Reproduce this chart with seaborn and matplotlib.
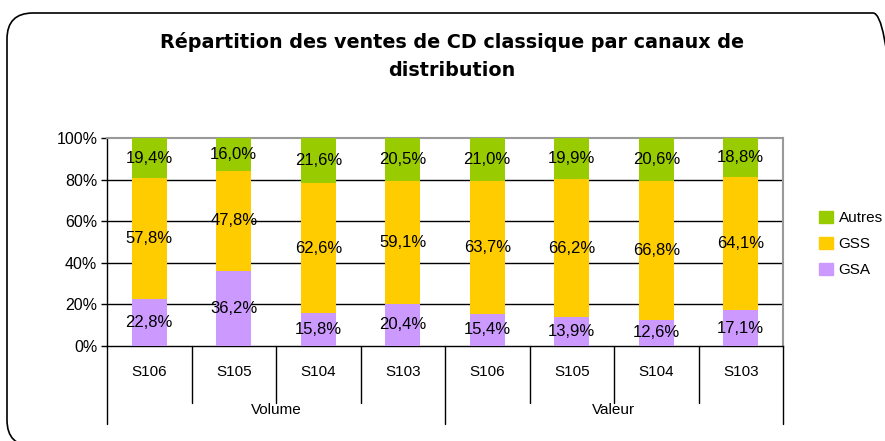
import matplotlib
matplotlib.use("Agg")
import matplotlib.pyplot as plt
from matplotlib.patches import FancyBboxPatch, Patch
from matplotlib.transforms import IdentityTransform
import pandas as pd
import seaborn as sns

# data (percent)
groups = ["Volume", "Valeur"]
periods = ["S106", "S105", "S104", "S103"]
gsa = [22.8, 36.2, 15.8, 20.4, 15.4, 13.9, 12.6, 17.1]
gss = [57.8, 47.8, 62.6, 59.1, 63.7, 66.2, 66.8, 64.1]
autres = [19.4, 16.0, 21.6, 20.5, 21.0, 19.9, 20.6, 18.8]
series = ["GSA", "GSS", "Autres"]
colors = {"GSA": "#CC99FF", "GSS": "#FFCC00", "Autres": "#99CC00"}

keys = [g + " " + p for g in groups for p in periods]
df = pd.DataFrame({"key": keys, "GSA": gsa, "GSS": gss, "Autres": autres})
df["c_gsa"] = df["GSA"]
df["c_gss"] = df["GSA"] + df["GSS"]
df["c_autres"] = df["GSA"] + df["GSS"] + df["Autres"]

sns.set_style("white")
plt.rcParams["font.family"] = ["Liberation Sans", "DejaVu Sans"]
plt.rcParams["text.color"] = "black"
plt.rcParams["ytick.color"] = "black"
plt.rcParams["xtick.color"] = "black"

fig = plt.figure(figsize=(8.85, 4.41), dpi=100)
ax = fig.add_axes([107 / 885, 95 / 441, 676 / 885, 208 / 441])

# stacked bars: draw cumulative totals from top to bottom
for col, name in [("c_autres", "Autres"), ("c_gss", "GSS"), ("c_gsa", "GSA")]:
    sns.barplot(data=df, x="key", y=col, order=keys, color=colors[name],
                width=0.41, saturation=1, linewidth=0, edgecolor="none",
                ax=ax, zorder=3)

# labels centred in each segment
for i, row in df.iterrows():
    base = 0
    for name in series:
        v = row[name]
        ax.text(i, base + v / 2, f"{v:.1f}%".replace(".", ","),
                ha="center", va="center", fontsize=12, zorder=4)
        base += v

ax.set_ylim(0, 100)
ax.set_xlim(-0.5, len(keys) - 0.5)
ax.set_yticks([0, 20, 40, 60, 80, 100])
ax.set_yticklabels([f"{t}%" for t in range(0, 101, 20)], fontsize=11.5)
ax.tick_params(axis="y", left=True, length=4, width=1, color="black", pad=3)
for t in [20, 40, 60, 80]:
    ax.axhline(t, color="black", lw=1, zorder=1)
ax.set_xlabel("")
ax.set_ylabel("")
ax.set_xticks([])

for s in ["left", "bottom"]:
    ax.spines[s].set_color("black")
    ax.spines[s].set_linewidth(1)
for s in ["top", "right"]:
    ax.spines[s].set_color("#999999")
    ax.spines[s].set_linewidth(1.5)

# two-level category axis
tr = ax.get_xaxis_transform()
n = len(keys)
for b in range(n + 1):
    bottom_y = -0.375 if b % 4 == 0 else -0.275
    ax.plot([b - 0.5, b - 0.5], [0, bottom_y], color="black", lw=1,
            transform=tr, clip_on=False)
for i, k in enumerate(keys):
    ax.text(i, -0.125, periods[i % 4], transform=tr, ha="center",
            va="center", fontsize=11)
for j, g in enumerate(groups):
    ax.text(j * 4 + 1.5, -0.31, g, transform=tr, ha="center",
            va="center", fontsize=11)

# legend
handles = [Patch(color=colors[s]) for s in ["Autres", "GSS", "GSA"]]
fig.legend(handles, ["Autres", "GSS", "GSA"], loc="center left",
           bbox_to_anchor=(805 / 885, 1 - 244 / 441), frameon=False,
           fontsize=11, handlelength=0.9, handleheight=0.9,
           handletextpad=0.4, labelspacing=0.75)

fig.text(452 / 885, 1 - 42 / 441,
         "Répartition des ventes de CD classique par canaux de",
         ha="center", va="center", fontsize=13.8, fontweight="bold",
         family="DejaVu Sans")
fig.text(452 / 885, 1 - 70 / 441, "distribution",
         ha="center", va="center", fontsize=13.8, fontweight="bold",
         family="DejaVu Sans")

# rounded outer frame
frame = FancyBboxPatch((7, -5), 892, 433,
                       boxstyle="round,pad=0,rounding_size=26",
                       transform=IdentityTransform(), fill=False,
                       edgecolor="black", lw=1.2)
fig.patches.append(frame)

fig.savefig("out.png", dpi=100)
